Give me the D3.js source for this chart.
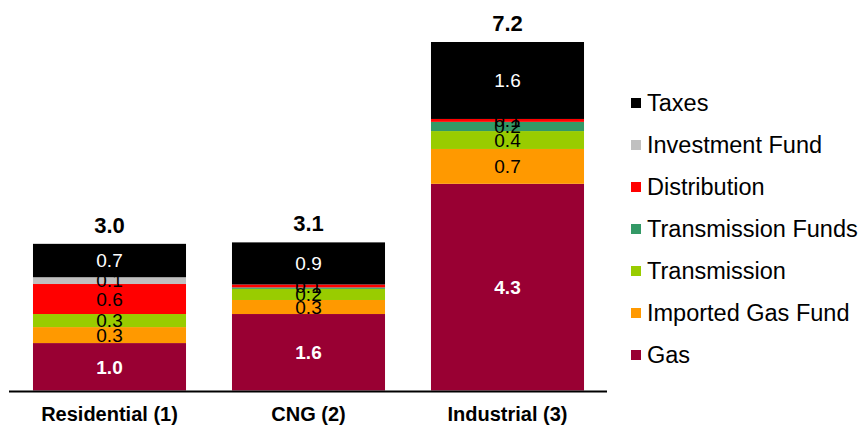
<!DOCTYPE html>
<html>
<head>
<meta charset="utf-8">
<script src="https://cdn.jsdelivr.net/npm/d3@7"></script>
<style>
  html, body { margin: 0; padding: 0; background: #fff; }
  svg { display: block; }
  text { font-family: "Liberation Sans", Arial, sans-serif; }
</style>
</head>
<body>
<svg id="chart" width="863" height="428"></svg>
<script>
// ---- data ----
const categories = ["Residential (1)", "CNG (2)", "Industrial (3)"];
const seriesNames = ["Gas", "Imported Gas Fund", "Transmission", "Transmission Funds", "Distribution", "Investment Fund", "Taxes"];
const seriesColors = ["#990033", "#FF9900", "#99CC00", "#339966", "#FF0000", "#C0C0C0", "#000000"];
const gas              = [0.98, 1.58, 4.27];
const importedGasFund  = [0.33, 0.29, 0.72];
const transmission     = [0.27, 0.23, 0.37];
const transmissionFunds= [0.00, 0.03, 0.19];
const distribution     = [0.62, 0.06, 0.06];
const investmentFund   = [0.14, 0.00, 0.00];
const taxes            = [0.69, 0.87, 1.59];
const legendOrder = ["Taxes", "Investment Fund", "Distribution", "Transmission Funds", "Transmission", "Imported Gas Fund", "Gas"];

const seriesValues = [gas, importedGasFund, transmission, transmissionFunds, distribution, investmentFund, taxes];
const rows = categories.map((c, i) => {
  const r = { category: c };
  seriesNames.forEach((s, j) => r[s] = seriesValues[j][i]);
  return r;
});

const svg = d3.select("#chart");
const baseY = 390.5;
const x = d3.scaleBand().domain(categories).range([10, 607]).paddingInner(0.231).paddingOuter(0.1155);
const y = d3.scaleLinear().domain([0, 7.2]).range([baseY, 42]);
const color = d3.scaleOrdinal().domain(seriesNames).range(seriesColors);

const stack = d3.stack().keys(seriesNames);
const stacked = stack(rows);

const layers = svg.append("g").selectAll("g").data(stacked).join("g")
  .attr("fill", d => color(d.key));
layers.selectAll("rect").data(d => d.map(p => ({ key: d.key, p }))).join("rect")
  .attr("x", d => x(d.p.data.category))
  .attr("width", x.bandwidth())
  .attr("y", d => y(d.p[1]))
  .attr("height", d => Math.max(0, y(d.p[0]) - y(d.p[1])));

// segment labels
const labelG = svg.append("g");
stacked.forEach(layer => {
  layer.forEach(p => {
    const v = p[1] - p[0];
    if (+v.toFixed(1) <= 0) return;
    const key = layer.key;
    labelG.append("text")
      .attr("x", x(p.data.category) + x.bandwidth() / 2)
      .attr("y", (y(p[0]) + y(p[1])) / 2)
      .attr("dy", "0.36em")
      .attr("text-anchor", "middle")
      .attr("font-size", 19)
      .attr("font-weight", key === "Gas" ? "bold" : "normal")
      .attr("fill", (key === "Gas" || key === "Taxes") ? "#fff" : "#000")
      .text(v.toFixed(1));
  });
});

// totals
const totals = rows.map(r => ({ category: r.category, total: d3.sum(seriesNames, s => r[s]) }));
svg.append("g").selectAll("text").data(totals).join("text")
  .attr("x", d => x(d.category) + x.bandwidth() / 2)
  .attr("y", d => y(d.total) - 11)
  .attr("text-anchor", "middle")
  .attr("font-size", 22)
  .attr("font-weight", "bold")
  .attr("fill", "#000")
  .text(d => d.total.toFixed(1));

// axis
const axis = svg.append("g").attr("transform", `translate(0,${baseY + 1})`)
  .call(d3.axisBottom(x).tickSize(0).tickPadding(15));
axis.select(".domain").attr("stroke", "#000").attr("stroke-width", 2).attr("d", "M9,0H607");
axis.selectAll(".tick text")
  .attr("font-size", 20)
  .attr("font-weight", "bold")
  .attr("font-family", "'Liberation Sans', Arial, sans-serif")
  .attr("fill", "#000");

// legend
const legend = svg.append("g").selectAll("g").data(legendOrder).join("g")
  .attr("transform", (d, i) => `translate(631,${103 + i * 42})`);
legend.append("rect").attr("x", 0).attr("y", -5).attr("width", 10).attr("height", 10)
  .attr("fill", d => color(d));
legend.append("text").attr("x", 16).attr("y", 0).attr("dy", "0.36em")
  .attr("font-size", 23.5).attr("fill", "#000").text(d => d);
</script>
</body>
</html>
